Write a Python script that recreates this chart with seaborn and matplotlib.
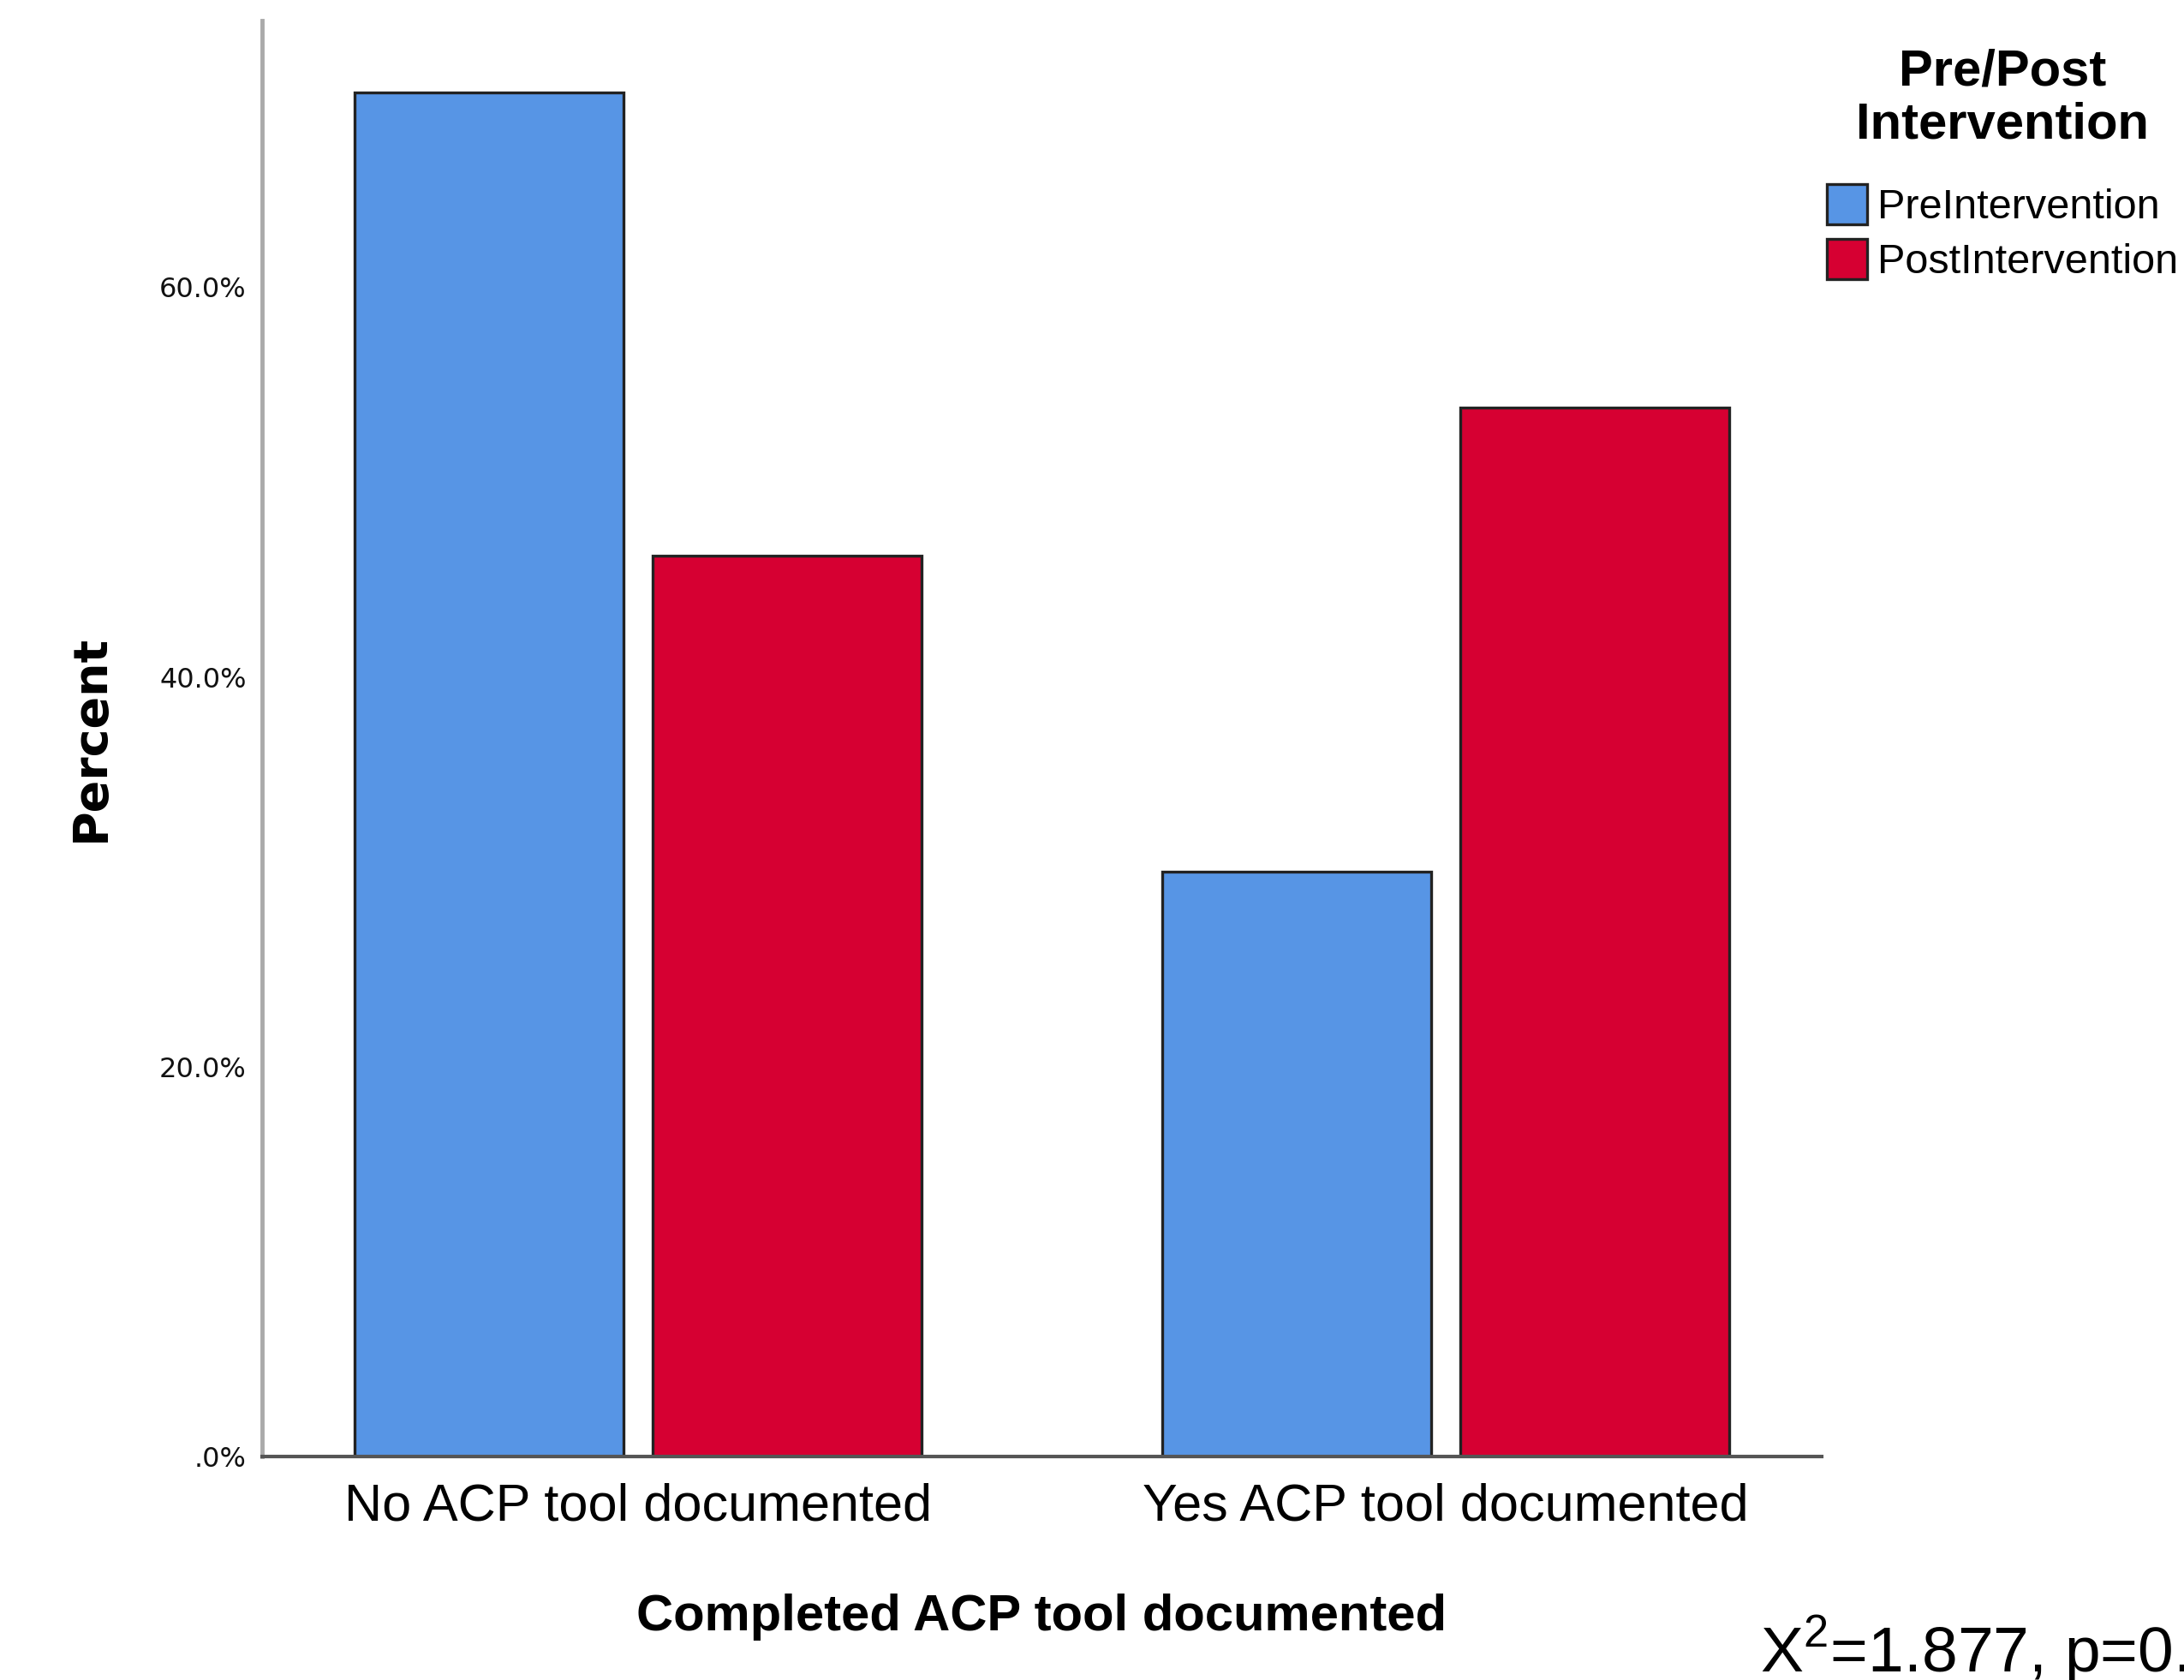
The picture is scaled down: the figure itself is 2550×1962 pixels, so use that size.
import matplotlib
matplotlib.use("Agg")
import matplotlib.pyplot as plt
import seaborn as sns
import pandas as pd

# ---- data ----
categories = ["No ACP tool documented", "Yes ACP tool documented"]
groups = ["PreIntervention", "PostIntervention"]
pre_values = [70.0, 30.0]
post_values = [46.2, 53.8]
y_ticks = [0, 20, 40, 60]
y_tick_labels = [".0%", "20.0%", "40.0%", "60.0%"]
colors = ["#5795E5", "#D60032"]
x_title = "Completed ACP tool documented"
y_title = "Percent"
legend_title = "Pre/Post\nIntervention"
stat_text = r"X$^{\mathrm{2}}$=1.877, p=0.171"

sns.set_theme(style="white")
plt.rcParams["font.family"] = ["Liberation Sans", "DejaVu Sans"]
plt.rcParams["mathtext.fontset"] = "custom"
plt.rcParams["mathtext.rm"] = "Liberation Sans"
for k in ["text.color", "axes.labelcolor", "xtick.color", "ytick.color"]:
    plt.rcParams[k] = "black"

df = pd.DataFrame({
    "category": categories * 2,
    "group": [groups[0]] * len(categories) + [groups[1]] * len(categories),
    "value": pre_values + post_values,
})

fig = plt.figure(figsize=(25.5, 19.62), dpi=100)
ax = fig.add_axes([0.1199, 0.133, 0.7142, 0.855])

sns.barplot(data=df, x="category", y="value", hue="group", order=categories,
            hue_order=groups, palette=colors, saturation=1, width=0.738, gap=0.097,
            edgecolor="#222222", linewidth=2.4, errorbar=None, ax=ax)

ax.set_xlim(-0.466, 1.466)
ax.set_ylim(0, 73.7)
ax.set_yticks(y_ticks)
ax.set_yticklabels(y_tick_labels, fontsize=23, family="DejaVu Sans", color="#111111")
ax.tick_params(axis="y", length=0, pad=13)
ax.tick_params(axis="x", length=0, pad=22, labelsize=44)

ax.set_xlabel(x_title, fontsize=43, fontweight="bold", labelpad=52)
ax.set_ylabel(y_title, fontsize=40, fontweight="bold", family="DejaVu Sans", labelpad=38)

for s in ["top", "right"]:
    ax.spines[s].set_visible(False)
ax.spines["left"].set_color("#aaaaaa")
ax.spines["left"].set_linewidth(3.5)
ax.spines["bottom"].set_color("#555555")
ax.spines["bottom"].set_linewidth(3)

leg = ax.legend(title=legend_title, loc="upper left", bbox_to_anchor=(0.8365, 0.971),
                bbox_transform=fig.transFigure, frameon=False, fontsize=35,
                title_fontsize=43, alignment="center", borderpad=0, borderaxespad=0,
                handlelength=0.97, handleheight=1.1, handletextpad=0.25, labelspacing=0.3)
leg.get_title().set_fontweight("bold")
leg.get_title().set_linespacing(1.15)
leg.get_title().set_multialignment("center")
try:
    leg._legend_box.sep = 30
except Exception:
    pass

fig.text(0.806, 0.0046, stat_text, fontsize=54, ha="left", va="baseline")

fig.savefig("out.png", dpi=100)
